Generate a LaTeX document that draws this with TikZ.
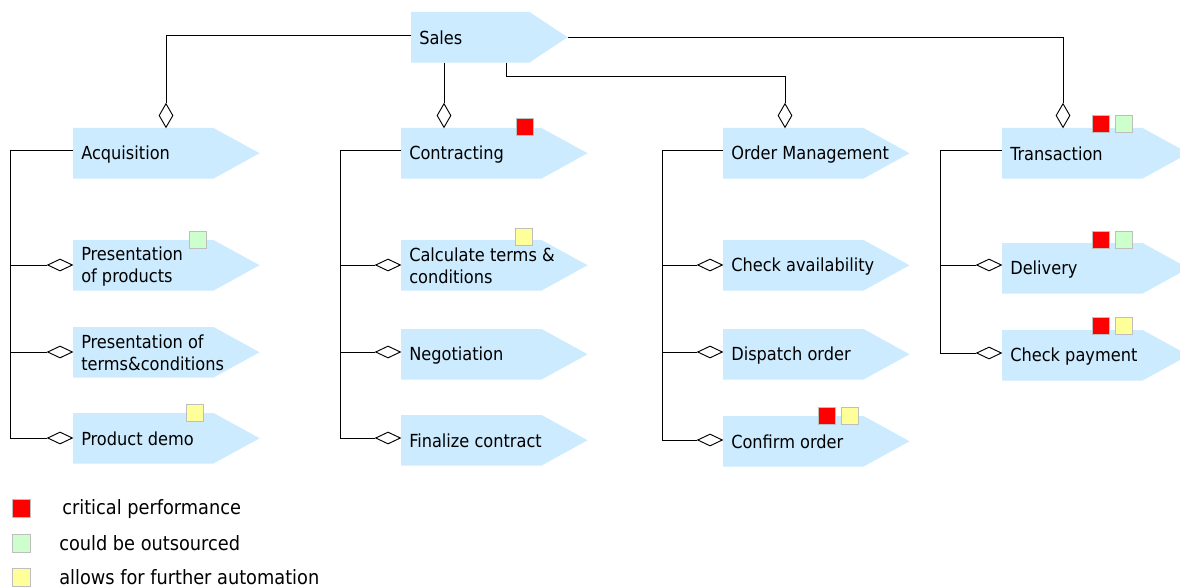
\documentclass[tikz,border=0pt]{standalone}
\usepackage{fontspec}
\setmainfont{DejaVu Sans Condensed}
\usetikzlibrary{shapes.geometric}
\definecolor{procblue}{RGB}{204,235,255}
\definecolor{mred}{RGB}{255,0,0}
\definecolor{mgreen}{RGB}{204,255,204}
\definecolor{myellow}{RGB}{255,255,153}
\definecolor{mborder}{RGB}{190,190,190}
\tikzset{
  body/.style={rectangle, inner sep=0pt, minimum height=37.5pt, anchor=north west},
  lbl/.style={anchor=west, inner sep=0pt, align=left, font=\fontsize{13.5}{16.5}\selectfont},
  leglbl/.style={anchor=west, inner sep=0pt, font=\fontsize{14.8}{17}\selectfont},
  conn/.style={draw=black, line width=0.75pt},
  vdia/.style={diamond, draw=black, fill=white, line width=0.7pt, inner sep=0pt,
    minimum width=10.5pt, minimum height=18pt, anchor=south},
  hdia/.style={diamond, draw=black, fill=white, line width=0.7pt, inner sep=0pt,
    minimum width=18.75pt, minimum height=9pt, anchor=east},
  markbox/.style={rectangle, draw=mborder, line width=0.75pt, inner sep=0pt,
    minimum size=12.75pt, anchor=north west},
}
\newcommand\proc[6]{%
  \node[body, minimum width=#4*0.75pt] (#1) at (#2,#3) {};
  \coordinate (#1-tip) at ([xshift=#5*0.75pt]#1.east);
  \fill[procblue] (#1.north west) -- (#1.north east) -- (#1-tip) -- (#1.south east) -- (#1.south west) -- cycle;
  \node[lbl] (#1-t) at ([xshift=6pt,yshift=-0.6pt]#1.west) {#6};
}
\newcommand\flag[4]{\node[markbox, fill=#4] (#1) at (#2,#3) {};}
\begin{document}
\begin{tikzpicture}[x=0.75pt, y=-0.75pt]
\clip (0,0) rectangle (1180,588);
\fill[white] (0,0) rectangle (1180,588);
% processes
\proc{sales}{411}{12}{118}{38}{Sales}
\proc{acq}{73}{128}{140}{46}{Acquisition}
\proc{pp}{73}{240}{140}{46}{Presentation\\of products}
\proc{ptc}{73}{327}{140}{46}{Presentation of\\terms\&conditions}
\proc{pd}{73}{413}{140}{46}{Product demo}
\proc{con}{401}{128}{140}{46}{Contracting}
\proc{calc}{401}{240}{140}{46}{Calculate terms \&\\conditions}
\proc{neg}{401}{329}{140}{46}{Negotiation}
\proc{fin}{401}{415}{140}{46}{Finalize contract}
\proc{om}{723}{128}{140}{46}{Order Management}
\proc{ca}{723}{240}{140}{46}{Check availability}
\proc{disp}{723}{329}{140}{46}{Dispatch order}
\proc{conf}{723}{416}{140}{46}{Confirm order}
\proc{tr}{1002}{128}{140}{46}{Transaction}
\proc{del}{1002}{243}{140}{46}{Delivery}
\proc{cp}{1002}{330}{140}{46}{Check payment}
% top diamonds
\node[vdia] (dAcq) at (166,128) {};
\node[vdia] (dCon) at (444,128) {};
\node[vdia] (dOm) at (785,128) {};
\node[vdia] (dTr) at (1063,128) {};
% sales connectors
\draw[conn] ([yshift=1.5pt]sales.west) -| (dAcq.north);
\draw[conn] (sales.south -| dCon.north) -- (dCon.north);
\coordinate (jOm) at (506,77);
\draw[conn] (sales.south -| jOm) -- (jOm) -| (dOm.north);
\draw[conn] (sales-tip) -| (dTr.north);
% child diamonds
\node[hdia] (dpp) at (73,265) {};
\node[hdia] (dptc) at (73,352) {};
\node[hdia] (dpd) at (73,438) {};
\node[hdia] (dcalc) at (401,265) {};
\node[hdia] (dneg) at (401,352) {};
\node[hdia] (dfin) at (401,438) {};
\node[hdia] (dca) at (723,265) {};
\node[hdia] (ddisp) at (723,352) {};
\node[hdia] (dconf) at (723,440) {};
\node[hdia] (ddel) at (1002,265) {};
\node[hdia] (dcp) at (1002,353) {};
% rails
\coordinate (rAcq) at (10,0);
\coordinate (rCon) at (340,0);
\coordinate (rOm) at (662,0);
\coordinate (rTr) at (940,0);
\draw[conn] ([yshift=2.25pt]acq.west) -| (rAcq |- dpd.west) -- (dpd.west);
\draw[conn] (rAcq |- dpp.west) -- (dpp.west);
\draw[conn] (rAcq |- dptc.west) -- (dptc.west);
\draw[conn] ([yshift=2.25pt]con.west) -| (rCon |- dfin.west) -- (dfin.west);
\draw[conn] (rCon |- dcalc.west) -- (dcalc.west);
\draw[conn] (rCon |- dneg.west) -- (dneg.west);
\draw[conn] ([yshift=2.25pt]om.west) -| (rOm |- dconf.west) -- (dconf.west);
\draw[conn] (rOm |- dca.west) -- (dca.west);
\draw[conn] (rOm |- ddisp.west) -- (ddisp.west);
\draw[conn] ([yshift=2.25pt]tr.west) -| (rTr |- dcp.west) -- (dcp.west);
\draw[conn] (rTr |- ddel.west) -- (ddel.west);
% markers
\flag{fpp}{189}{231}{mgreen}
\flag{fpd}{186}{404}{myellow}
\flag{fcon}{516}{118}{mred}
\flag{fcalc}{515}{228}{myellow}
\flag{fconfr}{818}{407}{mred}
\flag{fconfy}{841}{407}{myellow}
\flag{ftrr}{1092}{115}{mred}
\flag{ftrg}{1115}{115}{mgreen}
\flag{fdelr}{1092}{231}{mred}
\flag{fdelg}{1115}{231}{mgreen}
\flag{fcpr}{1092}{317}{mred}
\flag{fcpy}{1115}{317}{myellow}
% legend
\node[markbox, fill=mred, minimum size=13.5pt] (lr) at (12,499) {};
\node[markbox, fill=mgreen, minimum size=13.5pt] (lg) at (12,534) {};
\node[markbox, fill=myellow, minimum size=13.5pt] (ly) at (12,568) {};
\node[leglbl] (tlr) at (62,509) {critical performance};
\node[leglbl] (tlg) at (59,543) {could be outsourced};
\node[leglbl] (tly) at (59,577) {allows for further automation};
\end{tikzpicture}
\end{document}
